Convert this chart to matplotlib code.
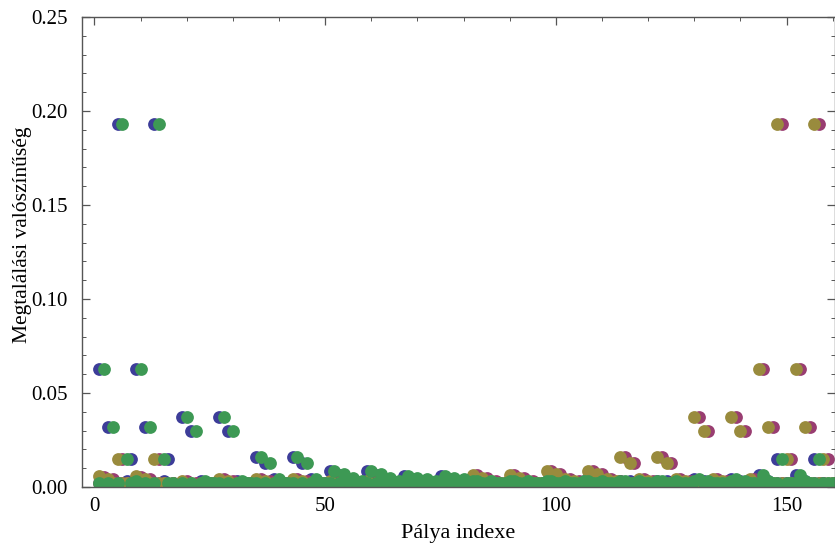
import numpy as np
import matplotlib
matplotlib.use("Agg")
import matplotlib.pyplot as plt
from matplotlib.ticker import MultipleLocator, FormatStrFormatter

# track index 1..160
track = np.arange(1, 161)

# finding probabilities, 10 values per row
blue = [
    0.063, 0.002, 0.032, 0.002, 0.193, 0.002, 0.003, 0.015, 0.063, 0.002,
    0.032, 0.002, 0.193, 0.002, 0.003, 0.015, 0.002, 0.001, 0.037, 0.002,
    0.030, 0.001, 0.003, 0.001, 0.002, 0.001, 0.037, 0.002, 0.030, 0.001,
    0.003, 0.001, 0.002, 0.001, 0.016, 0.002, 0.013, 0.001, 0.004, 0.001,
    0.002, 0.001, 0.016, 0.002, 0.013, 0.001, 0.004, 0.001, 0.002, 0.001,
    0.0085, 0.002, 0.0065, 0.001, 0.004, 0.001, 0.002, 0.001, 0.0085, 0.002,
    0.0065, 0.001, 0.004, 0.001, 0.002, 0.001, 0.0058, 0.002, 0.0045, 0.001,
    0.003, 0.001, 0.002, 0.001, 0.0058, 0.002, 0.0045, 0.001, 0.003, 0.001,
    0.002, 0.003, 0.001, 0.002, 0.001, 0.002, 0.001, 0.002, 0.001, 0.003,
    0.001, 0.002, 0.001, 0.002, 0.001, 0.002, 0.001, 0.003, 0.001, 0.003,
    0.001, 0.002, 0.001, 0.002, 0.001, 0.003, 0.001, 0.003, 0.001, 0.002,
    0.001, 0.002, 0.001, 0.003, 0.001, 0.003, 0.001, 0.002, 0.001, 0.002,
    0.001, 0.003, 0.001, 0.003, 0.001, 0.002, 0.001, 0.002, 0.001, 0.004,
    0.001, 0.003, 0.001, 0.002, 0.001, 0.002, 0.001, 0.004, 0.001, 0.003,
    0.001, 0.002, 0.001, 0.0065, 0.002, 0.003, 0.001, 0.015, 0.002, 0.002,
    0.001, 0.0065, 0.002, 0.003, 0.001, 0.015, 0.002, 0.002, 0.001, 0.002,
]

purple = [
    0.002, 0.0055, 0.002, 0.004, 0.002, 0.015, 0.002, 0.001, 0.002, 0.0055,
    0.002, 0.004, 0.002, 0.015, 0.002, 0.001, 0.002, 0.001, 0.002, 0.003,
    0.001, 0.002, 0.001, 0.002, 0.001, 0.002, 0.001, 0.004, 0.001, 0.003,
    0.001, 0.002, 0.001, 0.002, 0.001, 0.004, 0.001, 0.003, 0.001, 0.002,
    0.001, 0.002, 0.001, 0.004, 0.001, 0.003, 0.001, 0.002, 0.001, 0.002,
    0.001, 0.004, 0.001, 0.002, 0.001, 0.002, 0.001, 0.002, 0.001, 0.004,
    0.001, 0.002, 0.001, 0.002, 0.001, 0.002, 0.001, 0.002, 0.001, 0.002,
    0.001, 0.002, 0.001, 0.002, 0.001, 0.002, 0.001, 0.002, 0.001, 0.002,
    0.001, 0.002, 0.0064, 0.002, 0.005, 0.002, 0.003, 0.002, 0.002, 0.002,
    0.0064, 0.002, 0.005, 0.002, 0.003, 0.002, 0.002, 0.002, 0.0085, 0.002,
    0.007, 0.002, 0.004, 0.002, 0.003, 0.002, 0.002, 0.0085, 0.002, 0.007,
    0.002, 0.004, 0.002, 0.003, 0.016, 0.002, 0.013, 0.002, 0.004, 0.002,
    0.003, 0.002, 0.016, 0.002, 0.013, 0.002, 0.004, 0.002, 0.003, 0.002,
    0.037, 0.002, 0.030, 0.002, 0.004, 0.002, 0.003, 0.002, 0.037, 0.002,
    0.030, 0.002, 0.004, 0.002, 0.063, 0.002, 0.032, 0.002, 0.193, 0.002,
    0.015, 0.002, 0.063, 0.002, 0.032, 0.002, 0.193, 0.002, 0.015, 0.002,
]

gold = [
    0.006, 0.002, 0.004, 0.002, 0.015, 0.002, 0.002, 0.001, 0.006, 0.002,
    0.004, 0.002, 0.015, 0.002, 0.002, 0.001, 0.002, 0.001, 0.003, 0.001,
    0.002, 0.001, 0.002, 0.001, 0.002, 0.001, 0.004, 0.001, 0.003, 0.001,
    0.002, 0.001, 0.002, 0.001, 0.004, 0.001, 0.003, 0.001, 0.002, 0.001,
    0.002, 0.001, 0.004, 0.001, 0.003, 0.001, 0.002, 0.001, 0.002, 0.001,
    0.003, 0.001, 0.002, 0.001, 0.002, 0.001, 0.002, 0.001, 0.003, 0.001,
    0.002, 0.001, 0.002, 0.001, 0.002, 0.001, 0.002, 0.001, 0.002, 0.001,
    0.002, 0.001, 0.002, 0.001, 0.002, 0.001, 0.002, 0.001, 0.002, 0.001,
    0.002, 0.0064, 0.002, 0.005, 0.002, 0.003, 0.002, 0.002, 0.002, 0.0064,
    0.002, 0.005, 0.002, 0.003, 0.002, 0.002, 0.002, 0.0085, 0.002, 0.007,
    0.002, 0.004, 0.002, 0.003, 0.002, 0.002, 0.0085, 0.002, 0.007, 0.002,
    0.004, 0.002, 0.003, 0.016, 0.002, 0.013, 0.002, 0.004, 0.002, 0.003,
    0.002, 0.016, 0.002, 0.013, 0.002, 0.004, 0.002, 0.003, 0.002, 0.037,
    0.002, 0.030, 0.002, 0.004, 0.002, 0.003, 0.002, 0.037, 0.002, 0.030,
    0.002, 0.004, 0.002, 0.063, 0.002, 0.032, 0.002, 0.193, 0.002, 0.015,
    0.002, 0.063, 0.002, 0.032, 0.002, 0.193, 0.002, 0.015, 0.002, 0.002,
]

green = [
    0.002, 0.063, 0.002, 0.032, 0.002, 0.193, 0.015, 0.002, 0.003, 0.063,
    0.002, 0.032, 0.002, 0.193, 0.015, 0.002, 0.002, 0.001, 0.002, 0.037,
    0.002, 0.030, 0.002, 0.003, 0.002, 0.002, 0.002, 0.037, 0.002, 0.030,
    0.002, 0.003, 0.002, 0.002, 0.002, 0.016, 0.002, 0.013, 0.002, 0.004,
    0.002, 0.002, 0.002, 0.016, 0.002, 0.013, 0.002, 0.004, 0.002, 0.002,
    0.002, 0.0085, 0.002, 0.007, 0.003, 0.005, 0.002, 0.003, 0.002, 0.0085,
    0.002, 0.007, 0.003, 0.005, 0.002, 0.003, 0.002, 0.0058, 0.003, 0.0048,
    0.002, 0.004, 0.002, 0.003, 0.002, 0.0058, 0.003, 0.0048, 0.002, 0.004,
    0.002, 0.003, 0.003, 0.002, 0.002, 0.003, 0.002, 0.002, 0.002, 0.003,
    0.003, 0.002, 0.002, 0.003, 0.002, 0.002, 0.002, 0.003, 0.003, 0.002,
    0.002, 0.003, 0.002, 0.002, 0.002, 0.003, 0.003, 0.002, 0.002, 0.003,
    0.002, 0.002, 0.002, 0.003, 0.003, 0.002, 0.002, 0.003, 0.002, 0.002,
    0.002, 0.003, 0.003, 0.002, 0.002, 0.003, 0.002, 0.002, 0.002, 0.003,
    0.004, 0.002, 0.003, 0.002, 0.002, 0.002, 0.002, 0.003, 0.004, 0.002,
    0.003, 0.002, 0.002, 0.002, 0.0065, 0.003, 0.002, 0.002, 0.015, 0.002,
    0.002, 0.002, 0.0065, 0.003, 0.002, 0.002, 0.015, 0.002, 0.002, 0.002,
]

# Mathematica default palette, drawn in this order
series = [
    (blue, "#3d3d99"),
    (purple, "#993d71"),
    (gold, "#998b3d"),
    (green, "#3d9954"),
]

plt.rcParams["font.family"] = ["Liberation Serif", "DejaVu Serif"]

fig = plt.figure(figsize=(8.35, 5.51), dpi=100)
ax = fig.add_axes([82 / 835, 64 / 551, 753 / 835, 470 / 551])

for vals, col in series:
    ax.plot(track, vals, "o", color=col, markersize=9.2, markeredgewidth=0)

ax.set_xlim(-2.7, 160.5)
ax.set_ylim(0, 0.25)

ax.xaxis.set_major_locator(MultipleLocator(50))
ax.xaxis.set_minor_locator(MultipleLocator(10))
ax.yaxis.set_major_locator(MultipleLocator(0.05))
ax.yaxis.set_minor_locator(MultipleLocator(0.01))
ax.yaxis.set_major_formatter(FormatStrFormatter("%.2f"))

frame_col = "#555555"
for sp in ax.spines.values():
    sp.set_color(frame_col)
    sp.set_linewidth(1.0)
ax.tick_params(which="both", direction="in", top=True, right=True,
               color=frame_col, labelsize=15)
ax.tick_params(which="major", length=6, width=0.9)
ax.tick_params(axis="y", which="major", pad=10)
ax.tick_params(axis="x", which="major", pad=7)
ax.tick_params(which="minor", length=3, width=0.7)

ax.set_xlabel("Pálya indexe", fontsize=16, labelpad=6)
ax.set_ylabel("Megtalálási valószínűség", fontsize=15.5)
ax.yaxis.set_label_coords(-0.066, 0.536)

fig.savefig("out.png", dpi=100)
